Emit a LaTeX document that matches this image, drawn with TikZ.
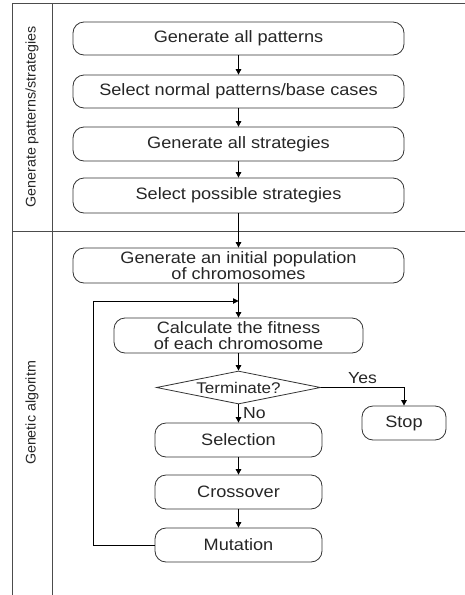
\documentclass[tikz,border=0pt]{standalone}
\usepackage{fontspec}
\setmainfont{Liberation Sans}[FakeStretch=1.1]
\newfontfamily\sidefont{Liberation Sans}[FakeStretch=1.02]
\usetikzlibrary{shapes.geometric,arrows.meta}
\begin{document}
\begin{tikzpicture}[x=1pt,y=-1pt,
  frame/.style={draw=black!70,line width=0.9pt},
  stepbox/.style={draw=black!80,line width=0.8pt,rounded corners=11pt,inner sep=0pt,align=center,text=black!85,font=\fontsize{16.5}{17}\selectfont},
  decide/.style={draw=black!80,line width=0.8pt,diamond,aspect=5,inner sep=0pt,text=black!85,font=\fontsize{15.5}{16}\selectfont},
  conn/.style={draw=black,line width=0.9pt,-{Triangle[length=5.5pt,width=5.5pt]}},
  lab/.style={font=\fontsize{16}{16}\selectfont,text=black!85,inner sep=0pt},
  side/.style={font=\sidefont\fontsize{14}{15}\selectfont,text=black!85,rotate=90,inner sep=0pt}]
\useasboundingbox (0,0) rectangle (465,595);
% frame
\coordinate (tl) at (12,3.5);
\coordinate (tr) at (465,3.5);
\coordinate (bl) at (12,595);
\coordinate (itl) at (52,3.5);
\coordinate (ibl) at (52,595);
\coordinate (dl) at (12,231.5);
\coordinate (dr) at (465,231.5);
\draw[frame] (tl) -- (tr);
\draw[frame] (tl) -- (bl);
\draw[frame] (itl) -- (ibl);
\draw[frame] (dl) -- (dr);
\node[side] (s1) at (32,117) {Generate patterns/strategies};
\node[side] (s2) at (32,413) {Genetic algoritm};
% upper boxes
\node[stepbox,minimum width=331pt,minimum height=33pt] (b1) at (238.5,38.5) {Generate all patterns};
\node[stepbox,minimum width=331pt,minimum height=33pt] (b2) at (238.5,91.5) {Select normal patterns/base cases};
\node[stepbox,minimum width=331pt,minimum height=34pt] (b3) at (238.5,144) {Generate all strategies};
\node[stepbox,minimum width=331pt,minimum height=35pt] (b4) at (238.5,195.5) {Select possible strategies};
% lower
\node[stepbox,minimum width=331pt,minimum height=35pt] (b5) at (238.5,265.5) {Generate an initial population\\[-1pt]of chromosomes};
\node[stepbox,minimum width=249pt,minimum height=35pt] (b6) at (238.5,335.5) {Calculate the fitness\\[-1pt]of each chromosome};
\node[decide,minimum width=164pt,minimum height=33pt] (d) at (238.5,387.5) {Terminate?};
\node[stepbox,minimum width=84pt,minimum height=34pt] (stop) at (404,423) {Stop};
\node[stepbox,minimum width=167pt,minimum height=34pt] (sel) at (238.5,440) {Selection};
\node[stepbox,minimum width=167pt,minimum height=34pt] (cro) at (238.5,492) {Crossover};
\node[stepbox,minimum width=167pt,minimum height=34pt] (mut) at (238.5,545) {Mutation};
% connectors
\draw[conn] (b1) -- (b2);
\draw[conn] (b2) -- (b3);
\draw[conn] (b3) -- (b4);
\draw[conn] (b4) -- (b5);
\coordinate (j) at (238.5,301);
\coordinate (lp) at (93,301);
\draw[line width=0.9pt] (b5.south) -- (j);
\draw[conn] (j) -- (b6.north);
\draw[conn] (b6) -- (d);
\draw[conn] (d.east) -| (stop.north);
\draw[conn] (d.south) -- (sel.north);
\draw[conn] (sel) -- (cro);
\draw[conn] (cro) -- (mut);
\draw[conn] (mut.west) -| (lp) -- (j);
\node[lab,anchor=west] (yes) at (348,378) {Yes};
\node[lab,anchor=west] (no) at (243,413) {No};
\end{tikzpicture}
\end{document}
